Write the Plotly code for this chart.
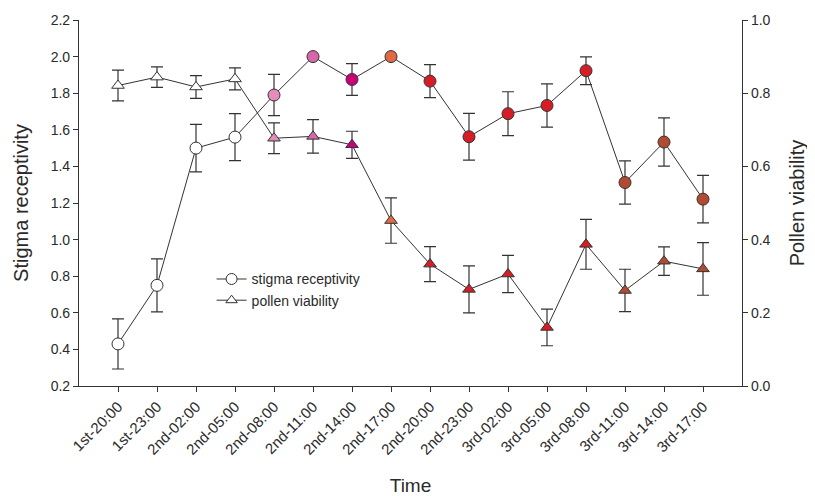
import plotly.graph_objects as go

times = ["1st-20:00", "1st-23:00", "2nd-02:00", "2nd-05:00", "2nd-08:00", "2nd-11:00",
         "2nd-14:00", "2nd-17:00", "2nd-20:00", "2nd-23:00", "3rd-02:00", "3rd-05:00",
         "3rd-08:00", "3rd-11:00", "3rd-14:00", "3rd-17:00"]

stigma = [0.43, 0.75, 1.50, 1.56, 1.79, 2.00, 1.875, 2.00, 1.866, 1.562, 1.688, 1.733,
          1.923, 1.312, 1.533, 1.221]
stigma_err = [0.137, 0.145, 0.13, 0.128, 0.113, None, 0.087, None, 0.09, 0.128, 0.12, 0.118,
              0.076, 0.118, 0.132, 0.13]

pollen = [0.821, 0.844, 0.817, 0.839, 0.677, 0.682, 0.659, 0.452, 0.333, 0.264, 0.306, 0.160,
          0.387, 0.261, 0.341, 0.320]
pollen_err = [0.042, 0.028, 0.031, 0.030, 0.042, 0.046, 0.037, 0.062, 0.048, 0.064, 0.051, 0.050,
              0.068, 0.058, 0.039, 0.072]

point_colors = ["#ffffff", "#ffffff", "#ffffff", "#ffffff", "#e58cbd", "#d866aa", "#c8007a",
                "#e06a45", "#d61c24", "#d61c24", "#d61c24", "#d61c24", "#d61c24",
                "#b04a30", "#b04a30", "#b04a30"]

FONT = "Liberation Sans, Arial, sans-serif"
LINE = "#333333"
TXT = "#2a2a2a"

fig = go.Figure()

fig.add_trace(go.Scatter(
    x=times, y=pollen, yaxis="y2", mode="lines+markers", showlegend=False,
    line=dict(color=LINE, width=1),
    marker=dict(symbol="triangle-up", size=11, color=point_colors,
                line=dict(color=LINE, width=1)),
    error_y=dict(type="data", array=pollen_err, color=LINE, thickness=1.2, width=6),
))

fig.add_trace(go.Scatter(
    x=times, y=stigma, mode="lines+markers", showlegend=False,
    line=dict(color=LINE, width=1),
    marker=dict(symbol="circle", size=12, color=point_colors,
                line=dict(color=LINE, width=1)),
    error_y=dict(type="data", array=stigma_err, color=LINE, thickness=1.2, width=6),
))

# legend-only entries
fig.add_trace(go.Scatter(
    x=[None], y=[None], mode="lines+markers", name="stigma receptivity",
    line=dict(color=LINE, width=1),
    marker=dict(symbol="circle", size=11, color="white", line=dict(color=LINE, width=1)),
))
fig.add_trace(go.Scatter(
    x=[None], y=[None], mode="lines+markers", name="pollen viability",
    line=dict(color=LINE, width=1),
    marker=dict(symbol="triangle-up", size=10, color="white", line=dict(color=LINE, width=1)),
))

fig.update_layout(
    width=815, height=496,
    margin=dict(l=71, r=81, t=12, b=118),
    paper_bgcolor="white", plot_bgcolor="white",
    font=dict(family=FONT, size=14, color=TXT),
    xaxis=dict(
        type="category", range=[-1, 16], tickangle=-45, automargin=False,
        showline=True, linecolor=LINE, linewidth=1.2, ticks="outside", ticklen=5,
        tickcolor=LINE, showgrid=False, zeroline=False,
        tickfont=dict(size=15, color=TXT),
        title=dict(text="Time", font=dict(size=19, color=TXT), standoff=21),
    ),
    yaxis=dict(
        range=[0.2, 2.2], tickvals=[0.2, 0.4, 0.6, 0.8, 1.0, 1.2, 1.4, 1.6, 1.8, 2.0, 2.2],
        tickformat=".1f", showline=True, linecolor=LINE, linewidth=1.2, ticks="outside",
        ticklen=5, tickcolor=LINE, showgrid=False, zeroline=False, automargin=False,
        tickfont=dict(size=14, color=TXT),
        title=dict(text="Stigma receptivity", font=dict(size=20, color=TXT), standoff=16),
    ),
    yaxis2=dict(
        range=[0, 1.0], tickvals=[0, 0.2, 0.4, 0.6, 0.8, 1.0], tickformat=".1f",
        overlaying="y", side="right", anchor="x", automargin=False,
        showline=True, linecolor=LINE, linewidth=1.2, ticks="outside",
        ticklen=5, tickcolor=LINE, showgrid=False, zeroline=False,
        tickfont=dict(size=14, color=TXT),
        title=dict(text="Pollen viability", font=dict(size=20, color=TXT), standoff=20),
    ),
    legend=dict(x=0.2, y=0.335, xanchor="left", yanchor="top",
                bgcolor="rgba(0,0,0,0)", font=dict(size=14, color=TXT), tracegroupgap=0),
    showlegend=True,
)

fig.write_html("out.html")
